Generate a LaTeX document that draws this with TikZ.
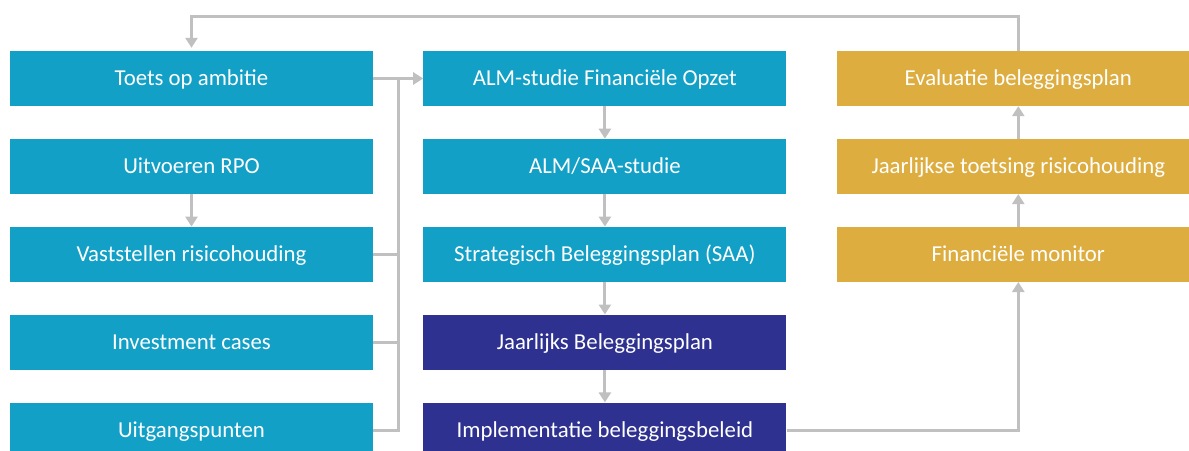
\documentclass[tikz,border=0pt]{standalone}
\usepackage{fontspec}
\setmainfont{Carlito}
\usetikzlibrary{positioning,arrows.meta,calc}

\definecolor{blauw}{RGB}{18,160,199}
\definecolor{donker}{RGB}{46,49,144}
\definecolor{goud}{RGB}{221,173,64}
\definecolor{grijs}{RGB}{192,192,192}

\begin{document}
\begin{tikzpicture}[x=1pt, y=-1pt, node distance=32.5pt and 50pt]

\tikzstyle{blok}=[rectangle, fill=blauw, text=white, minimum width=363pt, minimum height=55pt, inner sep=0pt, text height=14.7pt, text depth=0pt, font=\fontsize{22.8}{26}\selectfont]
\tikzstyle{blokdonker}=[blok, fill=donker]
\tikzstyle{blokgoud}=[blok, fill=goud]
\tikzstyle{lijn}=[draw=grijs, line width=3pt]
\tikzstyle{pijl}=[lijn, -{Triangle[width=12pt, length=10pt]}]

\useasboundingbox (0,0) rectangle (1189,450);
\clip (0,0) rectangle (1189,450);

% links
\node[blok] (toets) at (191.5,78.5) {Toets op ambitie};
\node[blok, below=of toets] (rpo) {Uitvoeren RPO};
\node[blok, below=of rpo] (vast) {Vaststellen risicohouding};
\node[blok, below=of vast] (invest) {Investment cases};
\node[blok, below=of invest] (uitgang) {Uitgangspunten};

% midden
\node[blok, right=of toets] (alm) {ALM-studie Financiële Opzet};
\node[blok, below=of alm] (saa) {ALM/SAA-studie};
\node[blok, below=of saa] (strat) {Strategisch Beleggingsplan (SAA)};
\node[blokdonker, below=of strat] (jaarplan) {Jaarlijks Beleggingsplan};
\node[blokdonker, below=of jaarplan] (impl) {Implementatie beleggingsbeleid};

% rechts
\node[blokgoud, right=of alm] (eval) {Evaluatie beleggingsplan};
\node[blokgoud, below=of eval] (toetsing) {Jaarlijkse toetsing risicohouding};
\node[blokgoud, below=of toetsing] (monitor) {Financiële monitor};

\coordinate (bus) at ($(toets.east)!0.5!(alm.west)$);
\coordinate (boven) at (0,16);

\draw[pijl] (toets.east) -- (alm.west);
\draw[lijn] (uitgang.east) -| (bus);
\draw[lijn] (vast.east) -- (vast.east -| bus);
\draw[lijn] (invest.east) -- (invest.east -| bus);

\draw[pijl] (rpo) -- (vast);
\draw[pijl] (alm) -- (saa);
\draw[pijl] (saa) -- (strat);
\draw[pijl] (strat) -- (jaarplan);
\draw[pijl] (jaarplan) -- (impl);

\draw[pijl] (impl.east) -| (monitor.south);
\draw[pijl] (monitor) -- (toetsing);
\draw[pijl] (toetsing) -- (eval);
\draw[pijl, shorten >=3pt] (eval.north) -- (eval.north |- boven) -| (toets.north);

\end{tikzpicture}
\end{document}
